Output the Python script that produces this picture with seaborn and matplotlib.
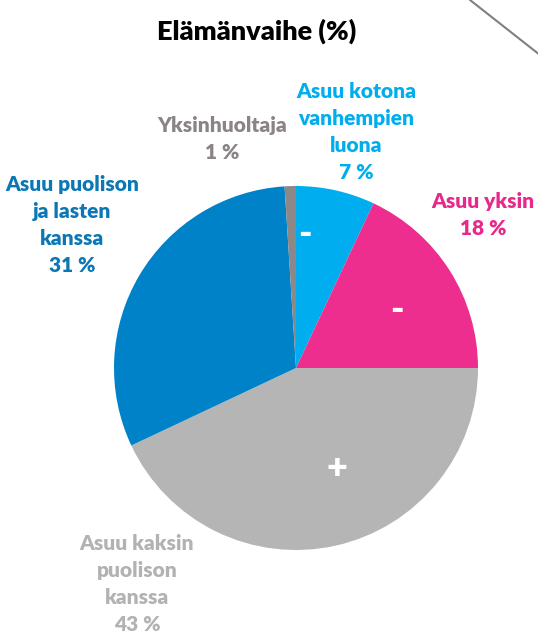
import matplotlib.pyplot as plt
import seaborn as sns
from matplotlib.lines import Line2D

# Data
labels = ["Asuu kotona\nvanhempien\nluona", "Asuu yksin", "Asuu kaksin\npuolison\nkanssa",
          "Asuu puolison\nja lasten\nkanssa", "Yksinhuoltaja"]
values = [7, 18, 43, 31, 1]
signs = ["-", "-", "+", "", ""]
slice_colors = ["#00AEEF", "#EE2E8F", "#B5B5B5", "#0082C8", "#8C8887"]
label_colors = ["#00AEEF", "#E8288A", "#B2B2B2", "#0B78B5", "#8A8584"]

sns.set_theme(style="white")
plt.rcParams['font.family'] = ['Lato', 'DejaVu Sans']

W, H = 538, 635
fig = plt.figure(figsize=(W / 100, H / 100), dpi=100)
ax = fig.add_axes([0, 0, 1, 1])

cx, cy, r = 296, H - 368, 182
ax.pie(values, colors=slice_colors, startangle=90, counterclock=False,
       center=(cx, cy), radius=r, wedgeprops=dict(linewidth=0))
ax.set_xlim(0, W)
ax.set_ylim(0, H)
ax.set_aspect('equal')
ax.axis('off')

# Label placement (pixel positions, y from top)
label_pos = [(356, 132), (483, 215), (137, 584), (72, 225), (222, 139)]
for lab, v, col, (x, y) in zip(labels, values, label_colors, label_pos):
    ax.text(x, H - y, f"{lab}\n{v} %", color=col, fontsize=15, fontweight='heavy',
            ha='center', va='center', linespacing=1.52)

# Signs inside slices
sign_pos = [(305, 235), (397, 310), (337, 468)]
for s, (x, y) in zip(signs, sign_pos):
    ax.text(x, H - y, s, color='white', fontsize=26, fontweight='heavy',
            ha='center', va='center')

ax.text(257, H - 31, "Elämänvaihe (%)", fontsize=19.5, fontweight='heavy',
        color='black', ha='center', va='center')

# corner line
fig.add_artist(Line2D([470 / W, 540 / W], [1, 1 - 55 / H], color='#808080', lw=1.5,
                      transform=fig.transFigure))

plt.savefig("out.png", dpi=100)
